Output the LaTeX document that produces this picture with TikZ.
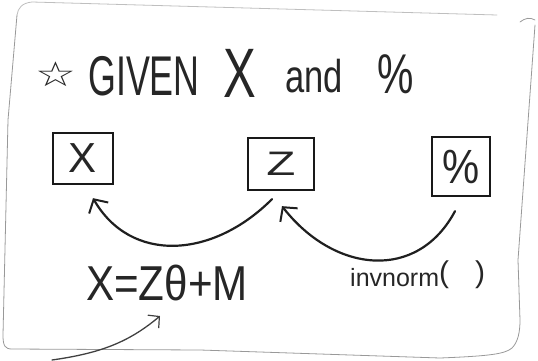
\documentclass[tikz,border=0pt]{standalone}
\usepackage{fontspec}
\setmainfont{Liberation Sans}
\newfontfamily\symfont{DejaVu Sans}
\usetikzlibrary{arrows.meta,calc}
\newcommand{\hw}[3]{\scalebox{#1}[1]{\fontsize{#2}{#2}\selectfont #3}}
\begin{document}
\begin{tikzpicture}[x=1pt,y=1pt,
  txt/.style={inner sep=0pt, anchor=base west, text=black!85},
  boxnode/.style={draw=black!90, line width=2.3pt, inner sep=0pt, text=black!85},
  arr/.style={line width=2.2pt, draw=black!88, line cap=round,
    -{Straight Barb[length=10pt,width=22pt,line width=2pt]}},
  thinarr/.style={line width=1.3pt, draw=black!75, line cap=round,
    -{Straight Barb[length=8pt,width=17pt,line width=1.2pt]}},
  border/.style={draw=black!40, line width=0.8pt, line cap=round, line join=round},
  faintborder/.style={draw=black!25, line width=0.8pt, line cap=round}
]
\useasboundingbox (0,0) rectangle (538,360);

% card outline
\draw[faintborder] (497,345) -- (32,358) .. controls (22,357) and (18,352) .. (17,345);
\draw[border] (17,345) -- (8,240) -- (3,25) .. controls (3,14) and (5,11) .. (12,11)
  -- (200,10) -- (440,2) .. controls (490,4) and (505,6) .. (512,12)
  .. controls (518,18) and (520,28) .. (520,40) -- (518,100) -- (535,335);
\draw[border] (520,338) .. controls (525,342) and (530,343) .. (535,340);

% title
\node[inner sep=0pt, text=black!85] (star) at (56,286) {\scalebox{1.2}[0.9]{\symfont\bfseries\fontsize{38}{38}\selectfont ☆}};
\node[txt] (given) at (88,265) {\hw{0.64}{56}{GIVEN}};
\node[txt] (gx) at (223,263) {\hw{0.7}{70}{X}};
\node[txt] (and) at (285,268) {\hw{0.75}{46}{and}};
\node[txt] (pct) at (377,267) {\hw{0.73}{56}{\%}};

% boxes
\node[boxnode, minimum width=60pt, minimum height=51pt] (X) at (83,201.5) {\hw{1.0}{42}{X}};
\node[boxnode, minimum width=66pt, minimum height=52pt] (Z) at (281,196) {\hw{1.4}{34}{Z}};
\node[boxnode, minimum width=58pt, minimum height=59pt] (P) at (461,193.5) {\hw{0.87}{48}{\%}};

% curved arrows
\draw[arr] ($(Z.south)+(-9,-8)$) .. controls +(225:85) and +(-60:75) .. ($(X.south)+(10,-13)$);
\draw[arr] ($(P.south)+(-6,-14)$) .. controls +(242:80) and +(-52:85) .. ($(Z.south)+(1,-15)$);

% formula and function
\node[txt] (eq) at (86,60) {\hw{0.86}{49}{X=Zθ+M}};
\node[txt] (inv) at (350,74) {\fontsize{25}{25}\selectfont invnorm\raisebox{4pt}{\fontsize{30}{30}\selectfont(}\hspace{26pt}\raisebox{4pt}{\fontsize{30}{30}\selectfont)}};

% small arrow
\coordinate (tailA) at (52,0);
\coordinate (tipA) at (160,44);
\draw[thinarr] (tailA) .. controls +(8:50) and +(-140:40) .. (tipA);
\end{tikzpicture}
\end{document}
